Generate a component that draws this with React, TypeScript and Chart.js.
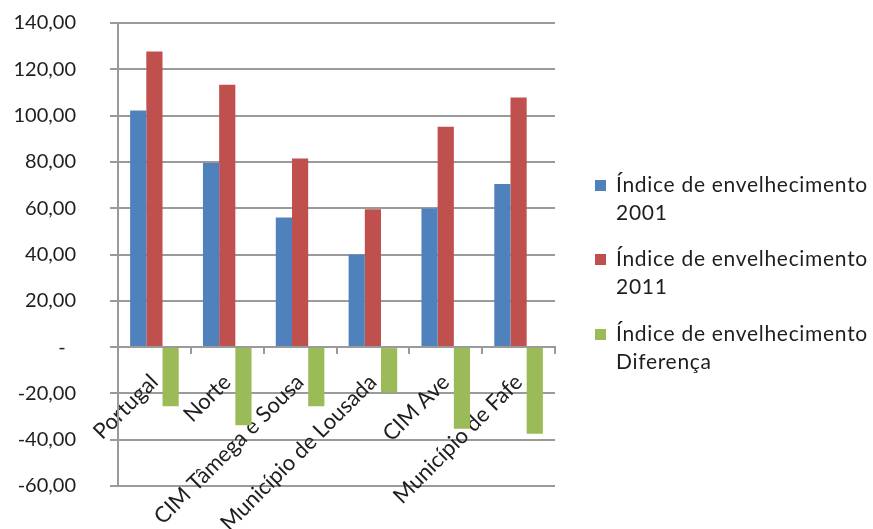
import React, { useEffect, useRef } from "react";
import { Chart, registerables } from "chart.js";

Chart.register(...registerables);

const categories = [
  "Portugal",
  "Norte",
  "CIM Tâmega e Sousa",
  "Município de Lousada",
  "CIM Ave",
  "Município de Fafe",
];

const seriesNames = [
  ["Índice de envelhecimento", "2001"],
  ["Índice de envelhecimento", "2011"],
  ["Índice de envelhecimento", "Diferença"],
];

const indice2001 = [102.2, 79.5, 56.0, 40.0, 59.9, 70.4];
const indice2011 = [127.7, 113.3, 81.5, 59.6, 95.2, 107.8];
const diferenca = [-25.5, -33.8, -25.5, -19.6, -35.3, -37.4];

const yMin = -60;
const yMax = 140;
const yStep = 20;

const colors = ["#4F81BD", "#C0504D", "#9BBB59"];
const gridColor = "#9a9a9a";
const textColor = "#1e1e1e";
const fontFamily = "Lato, 'Open Sans', sans-serif";

const formatTick = (v: number) =>
  v === 0 ? "-  " : v.toFixed(2).replace(".", ",");

export default function App() {
  const canvasRef = useRef<HTMLCanvasElement | null>(null);

  useEffect(() => {
    if (!canvasRef.current) return;
    const chart = new Chart(canvasRef.current, {
      type: "bar",
      data: {
        labels: categories,
        datasets: [indice2001, indice2011, diferenca].map((d, i) => ({
          label: seriesNames[i].join(" "),
          data: d,
          backgroundColor: colors[i],
          borderWidth: 0,
          categoryPercentage: 0.667,
          barPercentage: 1,
        })),
      },
      options: {
        animation: false,
        responsive: false,
        maintainAspectRatio: false,
        layout: { padding: { left: 0, top: 23, right: 318, bottom: 43 } },
        plugins: {
          legend: { display: false },
          tooltip: { enabled: false },
        },
        scales: {
          x: {
            position: { y: 0 } as any,
            offset: true,
            z: 1,
            grid: {
              offset: true,
              drawOnChartArea: false,
              drawTicks: true,
              tickLength: 6,
              color: gridColor,
              lineWidth: 2,
            },
            border: { color: gridColor, width: 2 },
            ticks: {
              autoSkip: false,
              minRotation: 45,
              maxRotation: 45,
              padding: 16,
              color: textColor,
              font: { family: fontFamily, size: 22 },
            },
            afterFit: (s: any) => {
              s.height = 0;
            },
          },
          y: {
            min: yMin,
            max: yMax,
            ticks: {
              stepSize: yStep,
              padding: 34,
              color: textColor,
              font: { family: fontFamily, size: 20 },
              callback: (v: any) => formatTick(Number(v)),
            },
            grid: {
              color: gridColor,
              lineWidth: 2,
              drawTicks: true,
              tickLength: 8,
            },
            border: { color: gridColor, width: 2 },
            afterFit: (s: any) => {
              s.width = 118;
              s.paddingTop = 0;
              s.paddingBottom = 0;
            },
          },
        },
      },
    });
    return () => chart.destroy();
  }, []);

  const itemTops = [170, 244, 319];

  return (
    <div
      style={{
        position: "fixed",
        left: 0,
        top: 0,
        width: 873,
        height: 529,
        background: "#fff",
        overflow: "hidden",
      }}
    >
      <canvas
        ref={canvasRef}
        width={873}
        height={529}
        style={{ position: "absolute", left: 0, top: 0, width: 873, height: 529 }}
      />
      {seriesNames.map((lines, i) => (
        <div
          key={i}
          style={{
            position: "absolute",
            left: 595,
            top: itemTops[i],
            fontFamily,
            fontSize: 21,
            lineHeight: "28px",
            color: textColor,
            letterSpacing: "0.7px",
          }}
        >
          <span
            style={{
              position: "absolute",
              left: 0,
              top: 10,
              width: 11,
              height: 11,
              background: colors[i],
            }}
          />
          <div style={{ marginLeft: 21, whiteSpace: "nowrap" }}>
            {lines.map((t, j) => (
              <div key={j}>{t}</div>
            ))}
          </div>
        </div>
      ))}
    </div>
  );
}
